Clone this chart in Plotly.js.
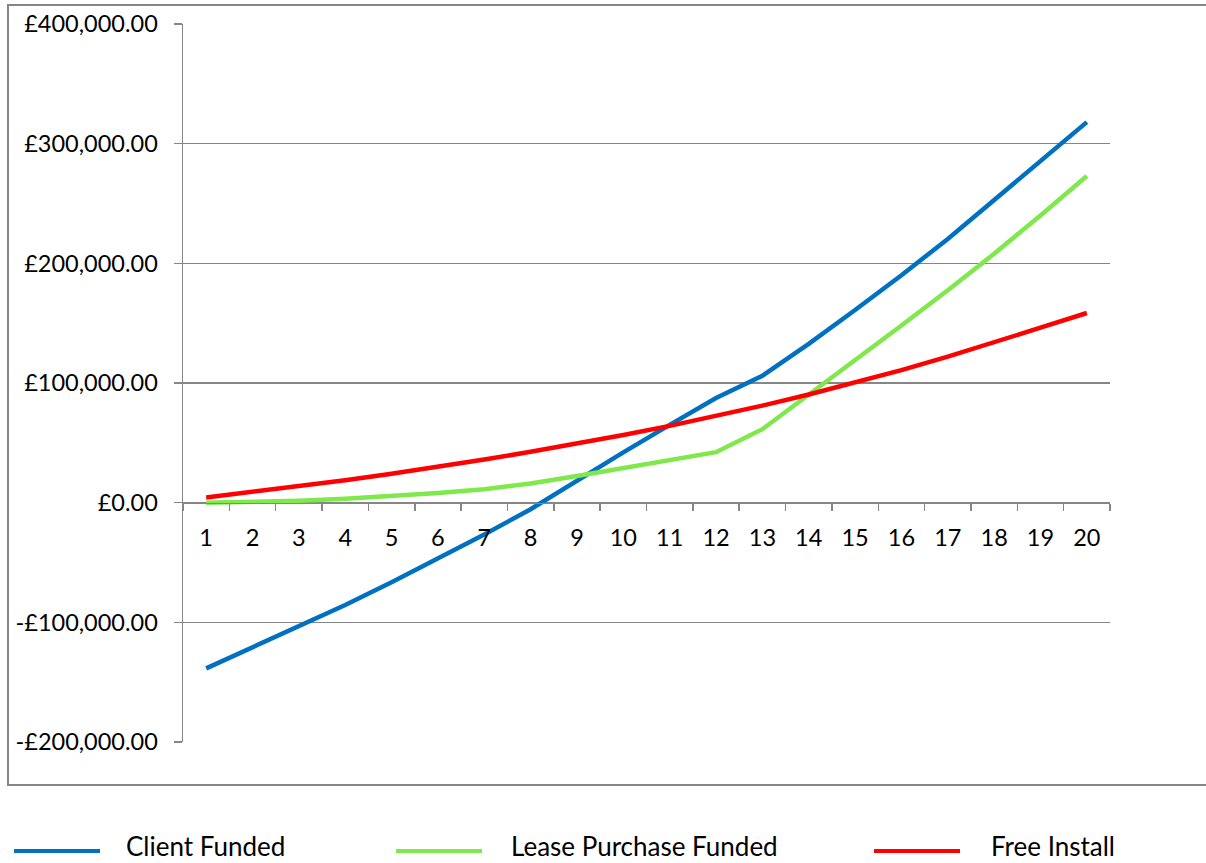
<!DOCTYPE html>
<html>
<head>
<meta charset="utf-8">
<script src="https://cdn.plot.ly/plotly-3.0.1.min.js"></script>
<style>
  html, body { margin: 0; padding: 0; background: #ffffff; }
  #chart { width: 1206px; height: 863px; }
</style>
</head>
<body>
<div id="chart"></div>
<script>
// Years of the projection
const years = ["1","2","3","4","5","6","7","8","9","10","11","12","13","14","15","16","17","18","19","20"];

// Cumulative position per funding option (GBP)
const clientFunded = [-138500, -121000, -103500, -85500, -66500, -47000, -26500, -5500, 18500, 42000,
                      65000, 87500, 106000, 132700, 161000, 190000, 220400, 252600, 285000, 318000];
const leasePurchaseFunded = [0, 500, 1600, 3200, 5300, 8000, 11200, 16000, 22300, 28800,
                             35300, 42200, 61400, 90000, 119000, 148000, 177500, 208000, 240000, 273000];
const freeInstall = [4300, 8800, 13600, 18700, 24100, 29900, 36000, 42500, 49300, 56500,
                     64200, 72400, 81100, 90400, 100300, 110800, 122000, 133800, 146200, 158500];

const seriesNames = ["Client Funded", "Lease Purchase Funded", "Free Install"];
const seriesColors = ["#0070C0", "#7FE84A", "#FF0000"];

// Value axis ticks
const yTickVals = [-200000, -100000, 0, 100000, 200000, 300000, 400000];
const yTickText = ["-£200,000.00", "-£100,000.00", "£0.00", "£100,000.00", "£200,000.00", "£300,000.00", "£400,000.00"];

const seriesValues = [clientFunded, leasePurchaseFunded, freeInstall];

const traces = seriesValues.map((vals, i) => ({
  type: "scatter",
  mode: "lines",
  x: years,
  y: vals,
  name: seriesNames[i],
  line: { color: seriesColors[i], width: 4.5 },
  showlegend: false,
  hoverinfo: "x+y+name"
}));

// Plot box geometry (pixels)
const W = 1206, H = 863;
const M = { l: 183, r: 96, t: 24, b: 121 };
const plotW = W - M.l - M.r;
const plotH = H - M.t - M.b;
const fx = px => (px - M.l) / plotW;
const fy = py => (H - M.b - py) / plotH;

const gray = "#868686";
const tickFont = { family: "Lato, 'Open Sans', sans-serif", size: 23.5, color: "#000000" };

// Frame around the chart area
const shapes = [{
  type: "rect", xref: "paper", yref: "paper",
  x0: fx(8), x1: fx(1215), y0: fy(785), y1: fy(5),
  line: { color: gray, width: 2 }, fillcolor: "rgba(0,0,0,0)", layer: "below"
}];

// Legend row below the frame
const legendItems = [
  { x0: 14, x1: 100, tx: 124 },
  { x0: 396, x1: 482, tx: 509 },
  { x0: 874, x1: 960, tx: 989 }
];
const legendY = 851;
const annotations = [];
legendItems.forEach((it, i) => {
  shapes.push({
    type: "line", xref: "paper", yref: "paper",
    x0: fx(it.x0), x1: fx(it.x1), y0: fy(legendY), y1: fy(legendY),
    line: { color: seriesColors[i], width: 4 }
  });
  annotations.push({
    xref: "paper", yref: "paper",
    x: fx(it.tx), y: fy(846),
    xanchor: "left", yanchor: "middle",
    text: seriesNames[i], showarrow: false,
    font: { family: "Lato, 'Open Sans', sans-serif", size: 26, color: "#000000" }
  });
});

const layout = {
  width: W, height: H,
  margin: M,
  paper_bgcolor: "#ffffff",
  plot_bgcolor: "#ffffff",
  showlegend: false,
  xaxis: {
    type: "category",
    categoryorder: "array",
    categoryarray: years,
    range: [-0.5, years.length - 0.5],
    anchor: "free",
    position: (0 - yTickVals[0]) / (yTickVals[yTickVals.length - 1] - yTickVals[0]),
    showline: true, linecolor: gray, linewidth: 1.5,
    ticks: "outside", tickson: "boundaries", ticklen: 7, tickcolor: gray, tickwidth: 1.5,
    showgrid: false, zeroline: false,
    tickfont: tickFont,
    ticklabelstandoff: 14,
    fixedrange: true
  },
  yaxis: {
    range: [yTickVals[0], yTickVals[yTickVals.length - 1]],
    tickmode: "array",
    tickvals: yTickVals,
    ticktext: yTickText,
    showline: true, linecolor: gray, linewidth: 1.5,
    showgrid: true, gridcolor: gray, gridwidth: 1.5,
    zeroline: false,
    ticks: "outside", ticklen: 8, tickcolor: gray, tickwidth: 1.5,
    tickfont: tickFont,
    ticklabelstandoff: 11,
    fixedrange: true
  },
  shapes: shapes,
  annotations: annotations
};

Plotly.newPlot("chart", traces, layout, { staticPlot: true, displayModeBar: false });
</script>
</body>
</html>
